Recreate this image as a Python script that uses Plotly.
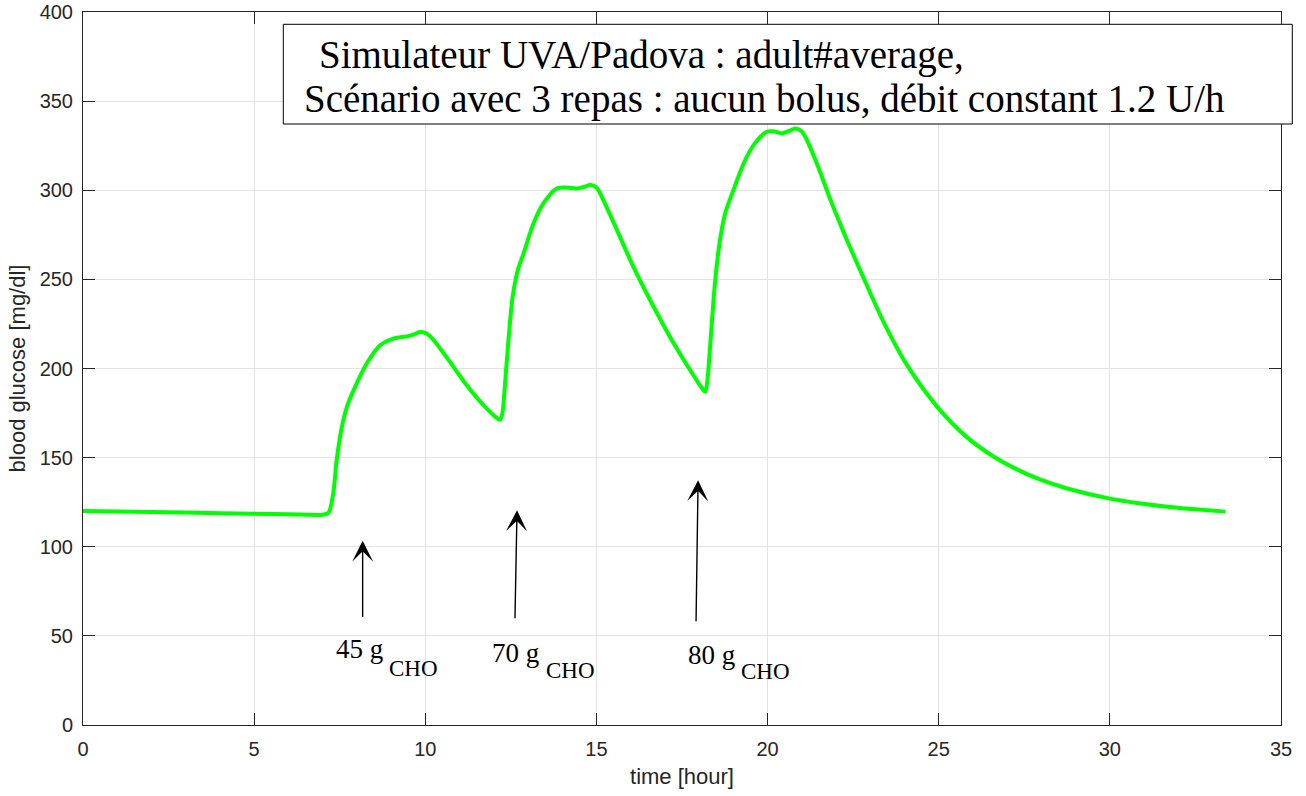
import plotly.graph_objects as go

# glucose trace (time in hours, blood glucose mg/dl)
time_h = [0, 2, 4, 6, 7.0, 7.17, 7.31, 7.41, 7.56, 7.71, 7.95, 8.29, 8.68, 9.07, 9.46, 9.65,
          9.85, 10.05, 10.24, 10.72, 11.21, 11.7, 12.1, 12.18, 12.25, 12.33, 12.43, 12.55,
          12.7, 12.87, 13.16, 13.45, 13.84, 14.1, 14.43, 14.65, 14.82, 15.0, 15.11, 15.6,
          16.08, 16.57, 17.15, 17.74, 18.1, 18.18, 18.25, 18.32, 18.47, 18.61, 18.76, 19.0,
          19.3, 19.59, 19.98, 20.2, 20.42, 20.65, 20.81, 21.0, 21.1, 21.44, 21.83, 22.32,
          22.8, 23.39, 24.07, 25.0, 25.82, 26.6, 27.28, 27.97, 28.75, 30.0, 30.9, 31.67,
          32.5, 33.37]
glucose = [120, 119.5, 118.8, 118.3, 118, 119, 129.8, 148.5, 167, 178.5, 189.7, 202.8, 213,
           216.8, 218, 219, 220.5, 219.5, 216, 203.7, 190.6, 179.4, 172, 171.2, 174.7, 191.6,
           215.9, 240, 255, 264.5, 281.4, 292.6, 301, 301.5, 301, 302, 302.9, 301.5, 298.2,
           277.6, 257, 238.3, 217.7, 199, 188.5, 186.9, 195, 212, 249.5, 272, 287, 300, 315,
           325.3, 332.8, 333, 331.9, 333.5, 334.7, 333, 330, 315, 295, 272,
           251, 226, 202, 177.5, 161.5, 150.6, 143.4, 137.6, 132.7, 127, 124.3, 122.5,
           121, 119.7]

# meal arrows: tail and head positions
arrow_tail_t = [8.17, 12.62, 17.91]
arrow_tail_g = [59.7, 59.0, 57.3]
arrow_head_t = [8.17, 12.68, 17.97]
arrow_head_g = [103.3, 120.5, 137.3]

# meal labels
meal_labels = ["45 g", "70 g", "80 g"]
meal_label_t = [7.36, 11.92, 17.65]
meal_label_g = [42.5, 40.5, 39.2]
sub_label = "CHO"
sub_label_t = [8.91, 13.5, 19.2]
sub_label_g = [31.8, 30.7, 30.1]

title_line1 = "Simulateur UVA/Padova : adult#average,"
title_line2 = "Scénario avec 3 repas : aucun bolus, débit constant 1.2 U/h"

x_ticks = [0, 5, 10, 15, 20, 25, 30, 35]
y_ticks = [0, 50, 100, 150, 200, 250, 300, 350, 400]

AX = "#262626"
GRID = "#e3e3e3"

# page pixel -> paper coordinate helpers (plot area: x 83..1281, y 12..725)
def px(xp):
    return (xp - 83) / 1198.0

def py(yp):
    return (725 - yp) / 713.0

fig = go.Figure()
fig.add_trace(go.Scatter(x=time_h, y=glucose, mode="lines",
                         line=dict(color="#00ff00", width=4, shape="spline", smoothing=0.8),
                         showlegend=False, hoverinfo="skip"))

annotations = []
for i in range(3):
    annotations.append(dict(x=arrow_head_t[i], y=arrow_head_g[i], ax=arrow_tail_t[i], ay=arrow_tail_g[i],
                            xref="x", yref="y", axref="x", ayref="y", text="", showarrow=True,
                            arrowhead=3, arrowsize=2.5, arrowwidth=1.4, arrowcolor="black", standoff=0,
                            startstandoff=0))
    annotations.append(dict(x=meal_label_t[i], y=meal_label_g[i], xref="x", yref="y",
                            text=meal_labels[i], showarrow=False, xanchor="left", yanchor="middle",
                            font=dict(family="Liberation Serif", size=27, color="black"), borderpad=0))
    annotations.append(dict(x=sub_label_t[i], y=sub_label_g[i], xref="x", yref="y",
                            text=sub_label, showarrow=False, xanchor="left", yanchor="middle",
                            font=dict(family="Liberation Serif", size=23, color="black"), borderpad=0))

# title box text
annotations.append(dict(x=px(318), y=py(55), xref="paper", yref="paper",
                        text=title_line1, showarrow=False, xanchor="left", yanchor="middle",
                        font=dict(family="Liberation Serif", size=39, color="black"), borderpad=0))
annotations.append(dict(x=px(303), y=py(99), xref="paper", yref="paper",
                        text=title_line2, showarrow=False, xanchor="left", yanchor="middle",
                        font=dict(family="Liberation Serif", size=39, color="black"), borderpad=0))

fig.update_layout(
    width=1306, height=796,
    margin=dict(l=83, r=25, t=12, b=71, autoexpand=False),
    paper_bgcolor="white", plot_bgcolor="white",
    annotations=annotations,
    shapes=[dict(type="rect", xref="paper", yref="paper",
                 x0=px(283.3), x1=px(1292.3), y0=py(124), y1=py(24.3),
                 line=dict(color="black", width=1), fillcolor="white", layer="above")],
    xaxis=dict(range=[0, 35], tickvals=x_ticks, ticks="inside", ticklen=12, tickcolor=AX,
               showline=True, linecolor=AX, linewidth=1, mirror="ticks", automargin=False,
               showgrid=True, gridcolor=GRID, gridwidth=1, zeroline=False, ticklabelstandoff=6,
               ticklabeloverflow="allow",
               tickfont=dict(family="Liberation Sans", size=20, color=AX),
               title=dict(text="time [hour]", font=dict(family="Liberation Sans", size=22, color=AX),
                          standoff=9)),
    yaxis=dict(range=[0, 400], tickvals=y_ticks, ticks="inside", ticklen=12, tickcolor=AX,
               showline=True, linecolor=AX, linewidth=1, mirror="ticks", automargin=False,
               showgrid=True, gridcolor=GRID, gridwidth=1, zeroline=False, ticklabelstandoff=5,
               ticklabeloverflow="allow",
               tickfont=dict(family="Liberation Sans", size=20, color=AX),
               title=dict(text="blood glucose [mg/dl]", font=dict(family="Liberation Sans", size=22, color=AX),
                          standoff=7)),
)

fig.write_html("out.html", config={"displayModeBar": False},
               post_script="document.body.style.margin='0px';")
